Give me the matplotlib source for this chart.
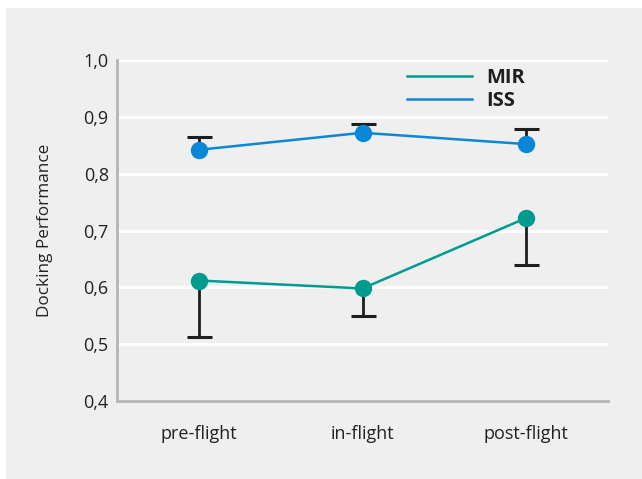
import matplotlib.pyplot as plt
from matplotlib.patches import Rectangle
from matplotlib.ticker import FuncFormatter

plt.rcParams['font.family'] = ['Open Sans', 'DejaVu Sans']

# data
phases = ['pre-flight', 'in-flight', 'post-flight']
mir = [0.612, 0.598, 0.722]
mir_err_low = [0.099, 0.048, 0.082]
iss = [0.842, 0.872, 0.852]
iss_err_high = [0.022, 0.015, 0.026]

c_mir = '#009b8f'
c_iss = '#0a87d6'
bg = '#efefef'

fig = plt.figure(figsize=(6.42, 4.79), dpi=100)
fig.patch.set_facecolor('white')
fig.patches.append(Rectangle((6 / 642, 0), 1, 1 - 8 / 479, transform=fig.transFigure,
                             facecolor=bg, edgecolor='none', zorder=-10))

ax = fig.add_axes([117 / 642, 1 - 401 / 479, (608 - 117) / 642, (401 - 60) / 479])
ax.set_facecolor(bg)

x = list(range(len(phases)))

# one sided error bars, drop the cap on the side with no error
eb = ax.errorbar(x, mir, yerr=[mir_err_low, [0, 0, 0]], fmt='none', ecolor='#1e1e1e',
                 elinewidth=2, capsize=9, capthick=2.2, zorder=3)
eb[1][1].set_visible(False)
eb = ax.errorbar(x, iss, yerr=[[0, 0, 0], iss_err_high], fmt='none', ecolor='#1e1e1e',
                 elinewidth=2, capsize=9, capthick=2.2, zorder=3)
eb[1][0].set_visible(False)

ax.plot(x, mir, color=c_mir, lw=1.8, marker='o', ms=11.5, mec=c_mir, label='MIR', zorder=4)
ax.plot(x, iss, color=c_iss, lw=1.8, marker='o', ms=11.5, mec=c_iss, label='ISS', zorder=4)

ax.set_xlim(-0.5, 2.5)
ax.set_ylim(0.4, 1.0)
ax.set_xticks(x)
ax.set_xticklabels(phases)
ax.set_yticks([0.4, 0.5, 0.6, 0.7, 0.8, 0.9, 1.0])
ax.yaxis.set_major_formatter(FuncFormatter(lambda v, p: f'{v:.1f}'.replace('.', ',')))
ax.tick_params(length=0, labelsize=13, colors='#222222')
ax.tick_params(axis='x', pad=17)
ax.tick_params(axis='y', pad=6)
ax.yaxis.grid(True, color='white', lw=2)
ax.set_axisbelow(True)

for s in ['top', 'right']:
    ax.spines[s].set_visible(False)
for s in ['left', 'bottom']:
    ax.spines[s].set_color('#b5b5b5')
    ax.spines[s].set_linewidth(2)

ax.set_ylabel('Docking Performance', fontsize=12.3, color='#222222')
ax.yaxis.set_label_coords((53 - 117) / 491, 0.5)

leg = ax.legend(loc='upper left', bbox_to_anchor=(389 / 642, 1 - 50 / 479),
                bbox_transform=fig.transFigure, frameon=False, handlelength=3.2,
                handletextpad=0.75, labelspacing=0.15,
                prop={'weight': 'bold', 'size': 14.5})
for h in leg.legend_handles:
    h.set_marker('')
for t in leg.get_texts():
    t.set_color('#1e1e1e')

fig.savefig('out.png', dpi=100, facecolor=fig.get_facecolor())
